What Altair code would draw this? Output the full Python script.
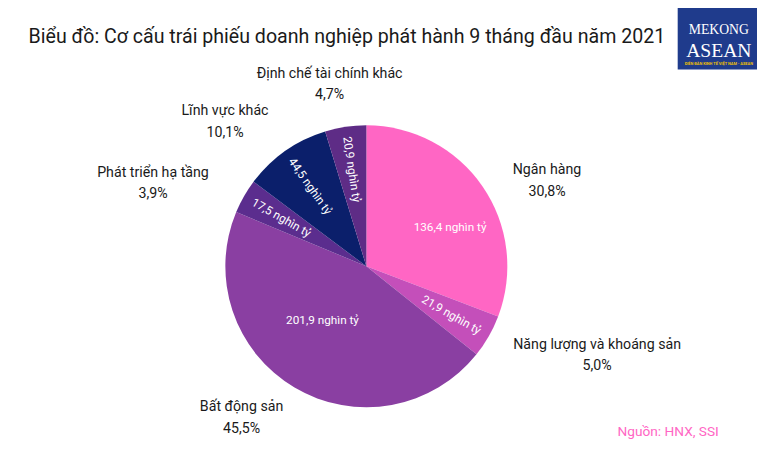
import altair as alt
import pandas as pd

# ---- data ----
categories = ["Ngân hàng", "Năng lượng và khoáng sản", "Bất động sản",
              "Phát triển hạ tầng", "Lĩnh vực khác", "Định chế tài chính khác"]
values = [136.4, 21.9, 201.9, 17.5, 44.5, 20.9]          # nghìn tỷ đồng
shares = ["30,8%", "5,0%", "45,5%", "3,9%", "10,1%", "4,7%"]
colors = ["#FF66C4", "#C44FBA", "#8A3FA2", "#5B2D8E", "#0B1F6B", "#5E2C86"]

title_text = "Biểu đồ: Cơ cấu trái phiếu doanh nghiệp phát hành 9 tháng đầu năm 2021"
source_text = "Nguồn: HNX, SSI"
logo_top = "MEKONG"
logo_mid = "ASEAN"
logo_sub = "DIỄN ĐÀN KINH TẾ VIỆT NAM - ASEAN"

amounts = [f"{v:.1f}".replace(".", ",") + " nghìn tỷ" for v in values]

df = pd.DataFrame({
    "idx": list(range(len(categories))),
    "cat": categories,
    "value": values,
    "share": shares,
    "amount": amounts,
})

FONT = "Roboto, Liberation Sans, sans-serif"
SERIF = "Liberation Serif, DejaVu Serif, serif"

base = (
    alt.Chart(df)
    .transform_joinaggregate(total="sum(value)")
    .transform_window(cum="sum(value)", sort=[alt.SortField("idx")], frame=[None, 0])
    .transform_calculate(
        mid="(datum.cum - datum.value/2) / datum.total * 360",
        # label direction pulled slightly towards the horizontal (Excel-style best fit)
        ang="datum.mid + 10 * sin(2 * datum.mid * PI / 180)",
    )
)

theta = alt.Theta("value:Q", stack=True)
order = alt.Order("idx:Q")

pie = base.mark_arc(radius=144).encode(
    theta=theta,
    order=order,
    color=alt.Color("cat:N", scale=alt.Scale(domain=categories, range=colors), legend=None),
)

small_lbl = base.transform_calculate(
    lab="datum.value < 100 ? datum.amount : ''",
    rot="datum.value < 100 ? (datum.mid < 180 ? datum.mid - 90 : datum.mid - 270) : 0",
).mark_text(radius=100, fontSize=12, color="white", font=FONT).encode(
    theta=theta, order=order, text="lab:N", angle=alt.Angle("rot:Q", scale=None)
)

big_lbl = base.transform_calculate(
    lab="datum.value >= 100 ? datum.amount : ''",
    rad="datum.ang * PI / 180",
    br="86 + 20 * cos(datum.ang * PI / 180)",
).mark_text(fontSize=12, color="white", font=FONT).encode(
    theta=alt.Theta("rad:Q", scale=None),
    radius=alt.Radius("br:Q", scale=None),
    text="lab:N",
)

outer_lbl = base.transform_calculate(
    lab="datum.cat + '\\n' + datum.share",
    rad="datum.ang * PI / 180",
    lr="178 + abs(sin(datum.ang*PI/180))*length(datum.cat)*3.4 - abs(cos(datum.ang*PI/180))*4",
).mark_text(fontSize=14.5, lineBreak="\n", lineHeight=22, dy=-11, color="#1a1a1a", font=FONT).encode(
    theta=alt.Theta("rad:Q", scale=None),
    radius=alt.Radius("lr:Q", scale=None),
    text="lab:N",
)

one = pd.DataFrame({"t": [title_text], "s": [source_text],
                    "a": [logo_top], "b": [logo_mid], "c": [logo_sub]})
ann = alt.Chart(one)

title = ann.mark_text(align="left", baseline="middle", fontSize=20, color="#1a1a1a", font=FONT).encode(
    x=alt.value(14), y=alt.value(-44), text="t:N")
source = ann.mark_text(align="right", baseline="middle", fontSize=14, color="#FF66C4", font=FONT).encode(
    x=alt.value(719), y=alt.value(359), text="s:N")
logo_bg = ann.mark_rect(color="#1F3B8C").encode(
    x=alt.value(677), x2=alt.value(770), y=alt.value(-80), y2=alt.value(-11))
logo1 = ann.mark_text(align="center", baseline="middle", fontSize=14, color="white", font=SERIF).encode(
    x=alt.value(719), y=alt.value(-51), text="a:N")
logo2 = ann.mark_text(align="center", baseline="middle", fontSize=20, color="white", font=SERIF).encode(
    x=alt.value(719), y=alt.value(-30), text="b:N")
logo3 = ann.mark_text(align="center", baseline="middle", fontSize=4, fontWeight="bold", color="#F2C200", font=FONT).encode(
    x=alt.value(719), y=alt.value(-17), text="c:N")

chart = alt.layer(
    pie, small_lbl, big_lbl, outer_lbl, title, source, logo_bg, logo1, logo2, logo3
).properties(
    width=718, height=380,
    padding={"left": 7, "top": 69, "right": 40, "bottom": 0},
    autosize="none",
    background="white",
).configure_view(stroke=None)

chart.save("out.html", embed_options={"renderer": "svg", "actions": False})
